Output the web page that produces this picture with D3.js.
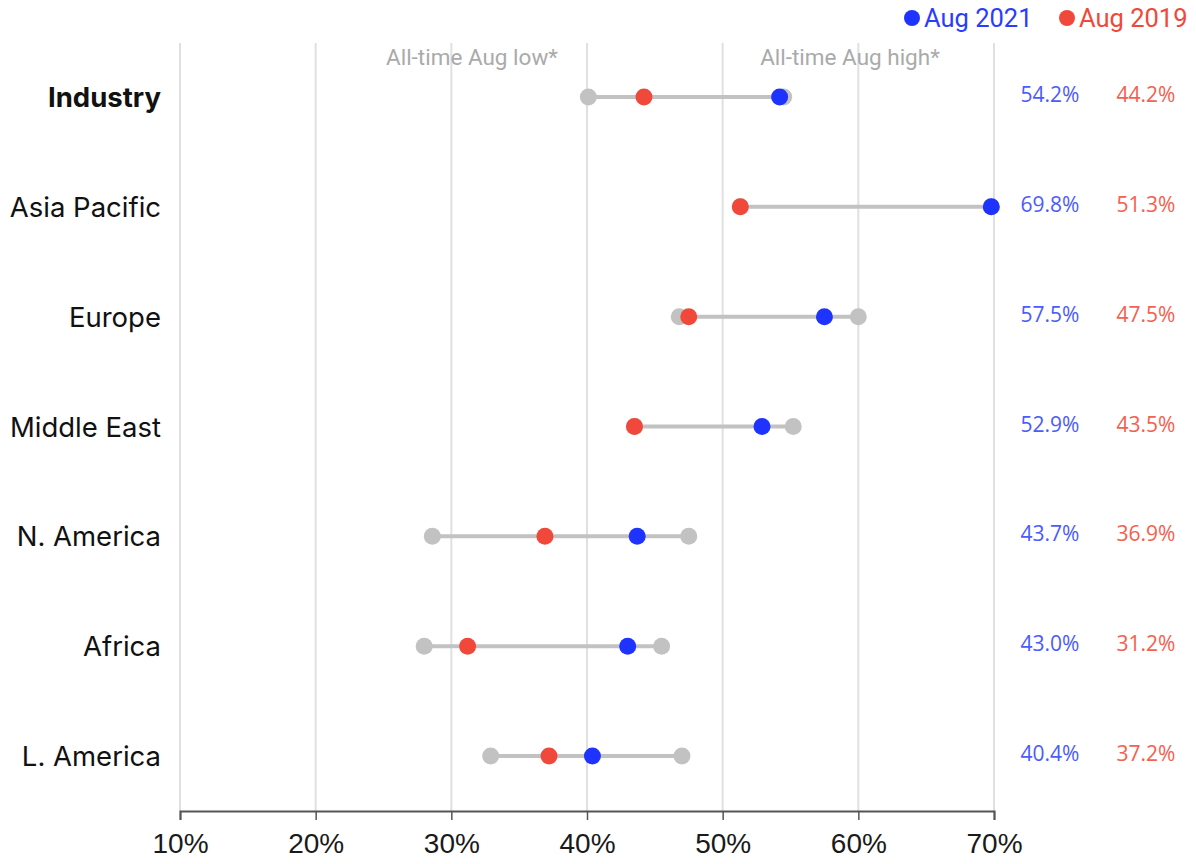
<!DOCTYPE html>
<html>
<head>
<meta charset="utf-8">
<script src="https://cdn.jsdelivr.net/npm/d3@7"></script>
<style>
  html, body { margin: 0; padding: 0; background: #fff; }
  svg { display: block; }
</style>
</head>
<body>
<svg id="chart" width="1196" height="864"></svg>
<script>
const categories = ["Industry", "Asia Pacific", "Europe", "Middle East", "N. America", "Africa", "L. America"];
const aug2021 = [54.2, 69.8, 57.5, 52.9, 43.7, 43.0, 40.4];
const aug2019 = [44.2, 51.3, 47.5, 43.5, 36.9, 31.2, 37.2];
const allTimeLow = [40.1, 51.3, 46.8, 43.5, 28.6, 28.0, 32.9];
const allTimeHigh = [54.5, 69.8, 60.0, 55.2, 47.5, 45.5, 47.0];
const tickValues = [10, 20, 30, 40, 50, 60, 70];
const seriesNames = ["Aug 2021", "Aug 2019"];

const BLUE = "#1f33ff", RED = "#f0483a", GRAY = "#c2c2c2";
const BLUE_TXT = "#4a5bff", RED_TXT = "#f5604f";

const svg = d3.select("#chart");
const x = d3.scaleLinear().domain([10, 70]).range([180, 994]);
const y = d3.scalePoint().domain(categories).range([97, 756]);

// gridlines
svg.append("g").selectAll("line").data(tickValues).join("line")
  .attr("x1", d => x(d)).attr("x2", d => x(d))
  .attr("y1", 43).attr("y2", 811)
  .attr("stroke", "#e0e0e0").attr("stroke-width", 2);

// axis
const axis = svg.append("g").attr("transform", "translate(0,811)")
  .call(d3.axisBottom(x).tickValues(tickValues).tickFormat(d => d + "%").tickSize(9).tickPadding(13));
axis.select(".domain").attr("stroke", "#555").attr("stroke-width", 2);
axis.selectAll(".tick line").attr("stroke", "#555").attr("stroke-width", 1.5);
axis.selectAll(".tick text").attr("font-family", "Liberation Sans, Arial, sans-serif")
  .attr("font-size", 28).attr("fill", "#1a1a1a");

// annotations
svg.append("text").attr("x", 472).attr("y", 57).attr("text-anchor", "middle")
  .attr("dominant-baseline", "central").attr("font-family", "Roboto, sans-serif")
  .attr("font-size", 22.5).attr("fill", "#aaaaaa").text("All-time Aug low*");
svg.append("text").attr("x", 850).attr("y", 57).attr("text-anchor", "middle")
  .attr("dominant-baseline", "central").attr("font-family", "Roboto, sans-serif")
  .attr("font-size", 22.5).attr("fill", "#aaaaaa").text("All-time Aug high*");

const rows = categories.map((c, i) => ({
  c, lo: allTimeLow[i], hi: allTimeHigh[i], a: aug2021[i], b: aug2019[i]
}));

const g = svg.append("g");
// range lines
g.selectAll("line.range").data(rows).join("line").attr("class", "range")
  .attr("x1", d => x(Math.min(d.lo, d.b, d.a))).attr("x2", d => x(Math.max(d.hi, d.a, d.b)))
  .attr("y1", d => y(d.c)).attr("y2", d => y(d.c))
  .attr("stroke", GRAY).attr("stroke-width", 4);
// gray dots
g.selectAll("circle.lo").data(rows).join("circle").attr("class", "lo")
  .attr("cx", d => x(d.lo)).attr("cy", d => y(d.c)).attr("r", 8.5).attr("fill", GRAY);
g.selectAll("circle.hi").data(rows).join("circle").attr("class", "hi")
  .attr("cx", d => x(d.hi)).attr("cy", d => y(d.c)).attr("r", 8.5).attr("fill", GRAY);
// red dots
g.selectAll("circle.b").data(rows).join("circle").attr("class", "b")
  .attr("cx", d => x(d.b)).attr("cy", d => y(d.c)).attr("r", 8.5).attr("fill", RED);
// blue dots
g.selectAll("circle.a").data(rows).join("circle").attr("class", "a")
  .attr("cx", d => x(d.a)).attr("cy", d => y(d.c)).attr("r", 8.5).attr("fill", BLUE);

// category labels
g.selectAll("text.cat").data(rows).join("text").attr("class", "cat")
  .attr("x", 161).attr("y", d => y(d.c)).attr("text-anchor", "end")
  .attr("dominant-baseline", "central")
  .attr("font-family", "Inter, Liberation Sans, Arial, sans-serif")
  .attr("font-size", 27.5).attr("font-weight", (d, i) => i === 0 ? "bold" : "normal")
  .attr("fill", "#111").text(d => d.c);

// value labels
g.selectAll("text.va").data(rows).join("text").attr("class", "va")
  .attr("x", 1050).attr("y", d => y(d.c) - 3).attr("text-anchor", "middle")
  .attr("dominant-baseline", "central").attr("font-family", "Open Sans, sans-serif")
  .attr("font-size", 21).attr("fill", BLUE_TXT).text(d => d.a.toFixed(1) + "%");
g.selectAll("text.vb").data(rows).join("text").attr("class", "vb")
  .attr("x", 1146).attr("y", d => y(d.c) - 3).attr("text-anchor", "middle")
  .attr("dominant-baseline", "central").attr("font-family", "Open Sans, sans-serif")
  .attr("font-size", 21).attr("fill", RED_TXT).text(d => d.b.toFixed(1) + "%");

// legend
const legend = svg.append("g");
const legendItems = [
  { name: seriesNames[0], color: BLUE, tx: "#2a3cff", x: 912 },
  { name: seriesNames[1], color: RED, tx: RED, x: 1067 }
];
legend.selectAll("circle").data(legendItems).join("circle")
  .attr("cx", d => d.x).attr("cy", 18).attr("r", 8).attr("fill", d => d.color);
legend.selectAll("text").data(legendItems).join("text")
  .attr("x", d => d.x + 12).attr("y", 18).attr("dominant-baseline", "central")
  .attr("font-family", "Roboto, sans-serif").attr("font-size", 25.5)
  .attr("fill", d => d.tx).text(d => d.name);
</script>
</body>
</html>
